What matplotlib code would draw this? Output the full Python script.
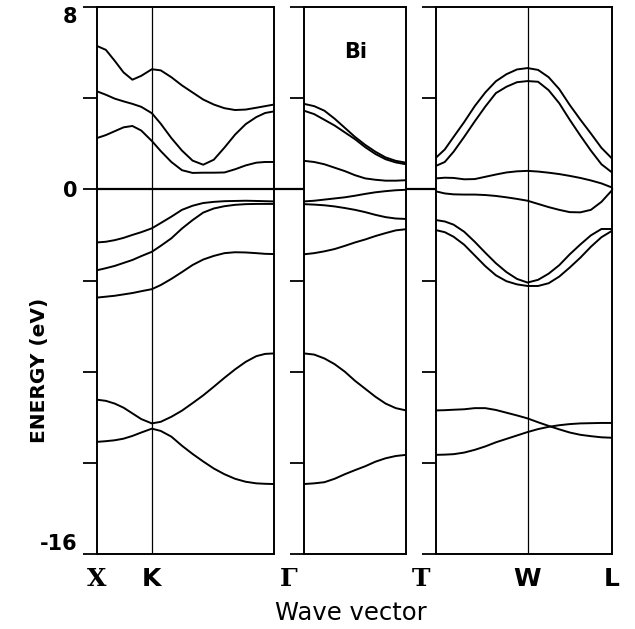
import matplotlib.pyplot as plt
import matplotlib.transforms as mtransforms

# band structure of Bi, energies in eV
# panel 1: X -> K -> Gamma  (path fraction, K at 0.31)
k1 = [0, 0.05, 0.1, 0.15, 0.2, 0.25, 0.31, 0.36, 0.42, 0.48, 0.54, 0.6, 0.66, 0.72, 0.78, 0.84, 0.9, 0.95, 1.0]
p1_a = [6.29, 6.12, 5.64, 5.13, 4.81, 4.98, 5.27, 5.22, 4.92, 4.56, 4.25, 3.94, 3.72, 3.56, 3.48, 3.5, 3.58, 3.65, 3.72]
p1_b = [4.3, 4.15, 3.98, 3.86, 3.75, 3.62, 3.34, 2.88, 2.25, 1.7, 1.26, 1.08, 1.3, 1.83, 2.4, 2.86, 3.17, 3.35, 3.42]
p1_c = [2.25, 2.38, 2.55, 2.72, 2.78, 2.58, 2.12, 1.68, 1.2, 0.84, 0.72, 0.73, 0.73, 0.74, 0.88, 1.05, 1.17, 1.2, 1.2]
p1_d = [-2.33, -2.3, -2.23, -2.13, -2.0, -1.88, -1.71, -1.48, -1.2, -0.9, -0.72, -0.6, -0.55, -0.52, -0.51, -0.5, -0.51, -0.52, -0.53]
p1_e = [-3.55, -3.46, -3.36, -3.23, -3.1, -2.93, -2.74, -2.48, -2.15, -1.72, -1.35, -1.02, -0.84, -0.74, -0.68, -0.65, -0.64, -0.64, -0.64]
p1_f = [-4.75, -4.71, -4.67, -4.61, -4.55, -4.47, -4.38, -4.2, -3.93, -3.63, -3.32, -3.08, -2.92, -2.8, -2.76, -2.77, -2.8, -2.83, -2.84]
p1_g = [-9.23, -9.28, -9.4, -9.58, -9.83, -10.08, -10.27, -10.2, -9.98, -9.71, -9.38, -9.04, -8.66, -8.27, -7.9, -7.57, -7.32, -7.22, -7.2]
p1_h = [-11.08, -11.05, -11.01, -10.94, -10.82, -10.67, -10.5, -10.6, -10.85, -11.25, -11.61, -11.94, -12.25, -12.5, -12.7, -12.83, -12.9, -12.92, -12.93]

# panel 2: Gamma -> T
k2 = [0, 0.1, 0.2, 0.3, 0.4, 0.5, 0.6, 0.7, 0.8, 0.9, 1.0]
p2_a = [3.75, 3.65, 3.45, 3.1, 2.7, 2.3, 1.95, 1.65, 1.4, 1.25, 1.17]
p2_b = [3.45, 3.3, 3.05, 2.8, 2.5, 2.2, 1.85, 1.55, 1.32, 1.18, 1.1]
p2_c = [1.25, 1.2, 1.1, 0.95, 0.8, 0.62, 0.48, 0.42, 0.38, 0.38, 0.4]
p2_d = [-0.53, -0.5, -0.45, -0.4, -0.35, -0.28, -0.2, -0.13, -0.08, -0.04, -0.02]
p2_e = [-0.65, -0.67, -0.7, -0.75, -0.82, -0.9, -1.0, -1.12, -1.22, -1.28, -1.3]
p2_f = [-2.85, -2.8, -2.72, -2.62, -2.48, -2.33, -2.2, -2.05, -1.92, -1.8, -1.75]
p2_g = [-7.2, -7.25, -7.42, -7.67, -8.0, -8.4, -8.75, -9.1, -9.4, -9.6, -9.7]
p2_h = [-12.93, -12.9, -12.85, -12.7, -12.5, -12.32, -12.15, -11.95, -11.8, -11.7, -11.65]

# panel 3: T -> W -> L  (W at 0.52)
k3 = [0, 0.05, 0.1, 0.16, 0.22, 0.28, 0.34, 0.4, 0.46, 0.52, 0.58, 0.64, 0.7, 0.76, 0.82, 0.88, 0.94, 1.0]
p3_a = [1.39, 1.75, 2.3, 2.95, 3.65, 4.25, 4.74, 5.05, 5.26, 5.32, 5.24, 4.92, 4.4, 3.7, 3.06, 2.45, 1.82, 1.35]
p3_b = [1.03, 1.2, 1.65, 2.3, 2.98, 3.63, 4.22, 4.5, 4.7, 4.75, 4.72, 4.35, 3.78, 3.05, 2.36, 1.7, 1.1, 0.74]
p3_c = [0.48, 0.51, 0.5, 0.44, 0.45, 0.55, 0.65, 0.74, 0.79, 0.81, 0.78, 0.73, 0.67, 0.59, 0.5, 0.39, 0.26, 0.08]
p3_d = [-0.09, -0.18, -0.22, -0.23, -0.23, -0.25, -0.29, -0.35, -0.42, -0.5, -0.64, -0.78, -0.9, -1.0, -1.01, -0.9, -0.55, -0.04]
p3_e = [-1.35, -1.41, -1.55, -1.86, -2.3, -2.78, -3.24, -3.63, -3.93, -4.09, -3.97, -3.7, -3.33, -2.85, -2.42, -2.02, -1.74, -1.74]
p3_f = [-1.79, -1.88, -2.08, -2.43, -2.9, -3.37, -3.77, -4.03, -4.17, -4.24, -4.24, -4.12, -3.83, -3.43, -3.0, -2.52, -2.1, -1.82]
p3_g = [-9.7, -9.69, -9.67, -9.65, -9.6, -9.6, -9.68, -9.8, -9.92, -10.05, -10.22, -10.38, -10.53, -10.67, -10.77, -10.83, -10.88, -10.9]
p3_h = [-11.65, -11.64, -11.62, -11.55, -11.43, -11.28, -11.1, -10.95, -10.8, -10.65, -10.52, -10.42, -10.35, -10.3, -10.27, -10.26, -10.25, -10.25]

k_K = 0.31
k_W = 0.52
yticks = [-16, -12, -8, -4, 0, 4, 8]
ylabels = ['-16', '', '', '', '0', '', '8']

fig = plt.figure(figsize=(6.35, 6.29), dpi=100)
W, H = 635, 629
bot = 1 - 554 / H
hgt = 547 / H
ax1 = fig.add_axes([97 / W, bot, 177 / W, hgt])
ax2 = fig.add_axes([304 / W, bot, 102 / W, hgt])
ax3 = fig.add_axes([436 / W, bot, 176 / W, hgt])

panels = [
    (ax1, k1, [p1_a, p1_b, p1_c, p1_d, p1_e, p1_f, p1_g, p1_h]),
    (ax2, k2, [p2_a, p2_b, p2_c, p2_d, p2_e, p2_f, p2_g, p2_h]),
    (ax3, k3, [p3_a, p3_b, p3_c, p3_d, p3_e, p3_f, p3_g, p3_h]),
]
for ax, k, bands in panels:
    for e in bands:
        ax.plot(k, e, color='black', lw=1.4, solid_joinstyle='round')
    ax.set_xlim(0, 1)
    ax.set_ylim(-16, 8)
    ax.set_yticks(yticks)
    ax.set_yticklabels([])
    ax.tick_params(axis='y', direction='out', length=10, width=1.3, pad=4)
    ax.tick_params(axis='x', length=0, pad=9, labelsize=18)
    for s in ax.spines.values():
        s.set_linewidth(1.4)

# symmetry points inside panels
ax1.axvline(k_K, color='black', lw=0.9)
ax3.axvline(k_W, color='black', lw=0.9)

ax1.set_yticklabels(ylabels, fontsize=15, fontweight='bold')
tl = ax1.get_yticklabels()
tl[0].set_verticalalignment('bottom')
tl[-1].set_verticalalignment('top')

ax1.set_xticks([0, k_K])
ax1.set_xticklabels(['X', 'K'], fontweight='bold')
ax2.set_xticks([])
ax3.set_xticks([k_W, 1.0])
ax3.set_xticklabels(['W', 'L'], fontweight='bold')
ax1.get_xticklabels()[0].set_fontfamily('DejaVu Serif')

# Gamma and T sit in the gaps between panels
p1, p2, p3 = ax1.get_position(), ax2.get_position(), ax3.get_position()
for lab, gx in [('Γ', (p1.x1 + p2.x0) / 2), ('T', (p2.x1 + p3.x0) / 2)]:
    ax1.annotate(lab, xy=(gx, 0), xycoords=('figure fraction', 'axes fraction'),
                 xytext=(0, -9), textcoords='offset points', ha='center', va='top',
                 fontsize=18, family='DejaVu Serif', fontweight='bold')

# zero of energy runs across all panels
trans = mtransforms.blended_transform_factory(fig.transFigure, ax1.transData)
ax1.plot([p1.x0, p3.x1], [0, 0], color='black', lw=1.6, transform=trans, clip_on=False)

ax2.text(0.51, 0.918, 'Bi', transform=ax2.transAxes, ha='center', va='center',
         fontsize=15, fontweight='bold')

fig.text(40 / W, 1 - 370 / H, 'ENERGY (eV)', rotation=90, ha='center', va='center',
         fontsize=14.5, fontweight='bold')
fig.text(351 / W, 1 - 613 / H, 'Wave vector', ha='center', va='center', fontsize=17.5)

plt.savefig('out.png', dpi=100)
